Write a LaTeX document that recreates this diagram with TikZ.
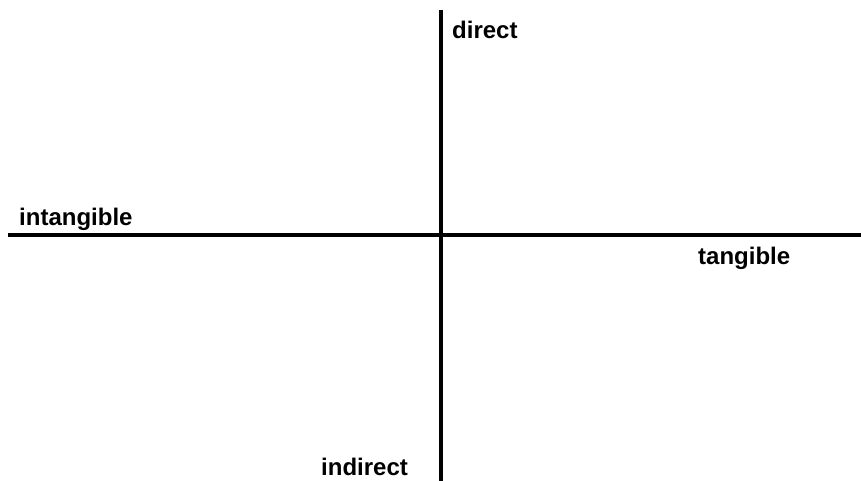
\documentclass[tikz,border=0pt]{standalone}
\usepackage{fontspec}
\setmainfont{Liberation Sans}
\begin{document}
\begin{tikzpicture}[x=1pt,y=-1pt,
  axis/.style={line width=3.2pt,black},
  lbl/.style={anchor=base west,inner sep=0pt,font=\bfseries\fontsize{24}{28}\selectfont}]
\useasboundingbox (0,0) rectangle (861,481);
\coordinate (top) at (441,10);
\coordinate (bot) at (441,481);
\coordinate (left) at (8,235);
\coordinate (right) at (861,235);
\draw[axis] (top) -- (bot);
\draw[axis] (left) -- (right);
\node[lbl] (direct) at (452,39) {direct};
\node[lbl] (intangible) at (19,225) {intangible};
\node[lbl] (tangible) at (698,264) {tangible};
\node[lbl] (indirect) at (321,475) {indirect};
\end{tikzpicture}
\end{document}
